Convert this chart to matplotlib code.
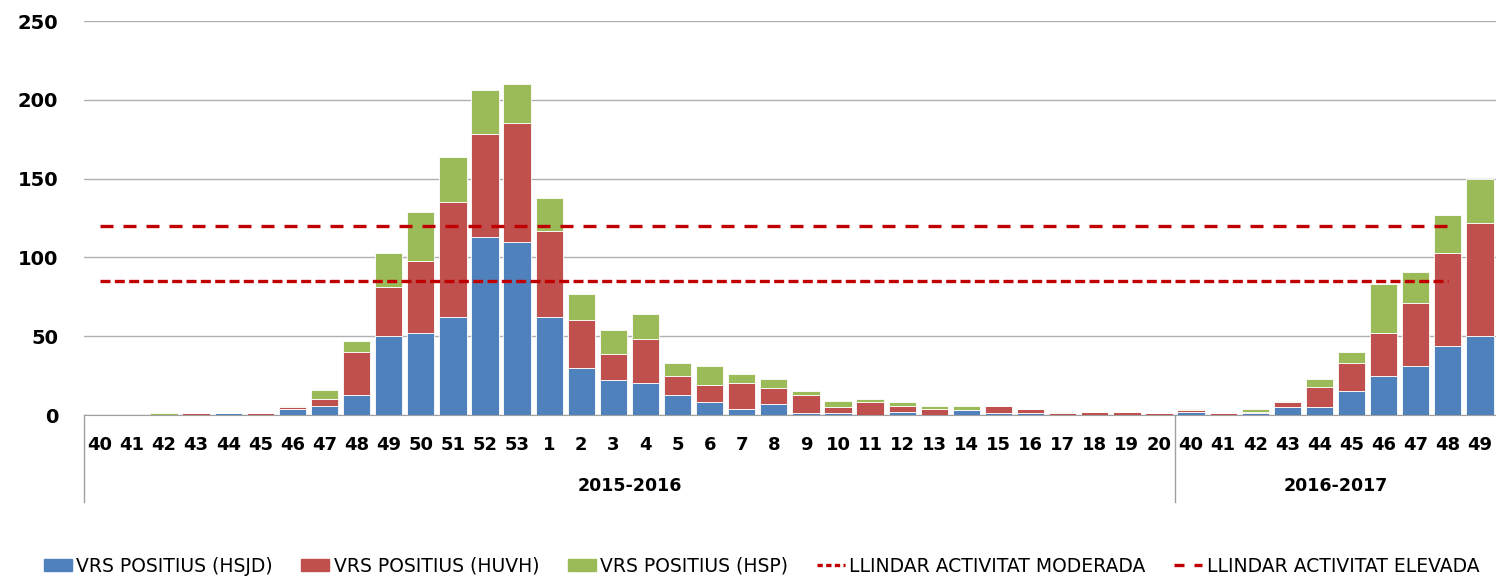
import numpy as np
import matplotlib.pyplot as plt
from matplotlib.transforms import blended_transform_factory
from matplotlib.patches import Patch
from matplotlib.lines import Line2D

# Setmanes epidemiològiques
weeks_1516 = [40, 41, 42, 43, 44, 45, 46, 47, 48, 49, 50, 51, 52, 53,
              1, 2, 3, 4, 5, 6, 7, 8, 9, 10, 11, 12, 13, 14, 15, 16, 17, 18, 19, 20]
weeks_1617 = [40, 41, 42, 43, 44, 45, 46, 47, 48, 49]
seasons = ["2015-2016", "2016-2017"]

hsjd = [0, 0, 0, 0, 1, 0, 4, 6, 13, 50, 52, 62, 113, 110,
        62, 30, 22, 20, 13, 8, 4, 7, 1, 1, 0, 2, 0, 3, 1, 1, 0, 0, 0, 0,
        2, 0, 1, 5, 5, 15, 25, 31, 44, 50]
huvh = [0, 0, 0, 1, 0, 1, 1, 4, 27, 31, 46, 73, 65, 75,
        55, 30, 17, 28, 12, 11, 16, 10, 12, 4, 8, 4, 4, 0, 5, 3, 1, 2, 2, 1,
        1, 1, 1, 3, 13, 18, 27, 40, 59, 72]
hsp = [0, 0, 1, 0, 0, 0, 1, 6, 7, 22, 31, 29, 28, 25,
       21, 17, 15, 16, 8, 12, 6, 6, 2, 4, 2, 2, 2, 3, 0, 0, 1, 0, 0, 0,
       1, 0, 2, 1, 5, 7, 31, 20, 24, 28]

llindar_moderada = 85
llindar_elevada = 120

labels = [str(w) for w in weeks_1516 + weeks_1617]
n = len(labels)
x = np.arange(n)

c_blue = "#4F81BD"
c_red = "#C0504D"
c_green = "#9BBB59"
c_line = "#C00000"
fam = ["DejaVu Sans"]

fig = plt.figure(figsize=(14.96, 5.76), dpi=100)
ax = fig.add_axes([0.056, 0.2795, 0.944, 0.684])

hsjd = np.array(hsjd)
huvh = np.array(huvh)
hsp = np.array(hsp)
w = 0.85
ax.bar(x, hsjd, w, color=c_blue, edgecolor="white", linewidth=0.6, zorder=3)
ax.bar(x, huvh, w, bottom=hsjd, color=c_red, edgecolor="white", linewidth=0.6, zorder=3)
ax.bar(x, hsp, w, bottom=hsjd + huvh, color=c_green, edgecolor="white", linewidth=0.6, zorder=3)

# llindars (fins a la penúltima setmana)
xl = x[:-1]
ax.plot(xl, np.full(len(xl), llindar_moderada), color=c_line, lw=2.4,
        dashes=(3, 1.3), zorder=4)
ax.plot(xl, np.full(len(xl), llindar_elevada), color=c_line, lw=2.4,
        dashes=(3.9, 3), zorder=4)

ax.set_xlim(-0.5, n - 0.5)
ax.set_ylim(0, 250)
ax.set_yticks([0, 50, 100, 150, 200, 250])
ax.yaxis.grid(True, color="#b0b0b0", lw=1, zorder=0)
ax.set_axisbelow(True)
for s in ["left", "right", "top"]:
    ax.spines[s].set_visible(False)
ax.spines["bottom"].set_color("#a0a0a0")
ax.tick_params(axis="y", length=0, pad=18.5, labelsize=14)
ax.tick_params(axis="x", length=0, pad=15, labelsize=13)
ax.set_xticks(x)
ax.set_xticklabels(labels)
for t in ax.get_xticklabels() + ax.get_yticklabels():
    t.set_fontweight("bold")
    t.set_family(fam)

# separadors de temporada
trans = blended_transform_factory(ax.transData, ax.transAxes)
n1 = len(weeks_1516)
for xs in [-0.5, n1 - 0.5]:
    ax.plot([xs, xs], [0, -0.22], transform=trans, color="#a0a0a0", lw=1, clip_on=False)
ax.text((n1 - 1) / 2, -0.18, seasons[0], transform=trans, ha="center", va="center",
        fontsize=12.5, fontweight="bold", family=fam)
ax.text(n1 + (len(weeks_1617) - 1) / 2, -0.18, seasons[1], transform=trans, ha="center",
        va="center", fontsize=12.5, fontweight="bold", family=fam)

handles = [
    Patch(color=c_blue, label="VRS POSITIUS (HSJD)"),
    Patch(color=c_red, label="VRS POSITIUS (HUVH)"),
    Patch(color=c_green, label="VRS POSITIUS (HSP)"),
    Line2D([], [], color=c_line, lw=2.4, dashes=(1.6, 1), label="LLINDAR ACTIVITAT MODERADA"),
    Line2D([], [], color=c_line, lw=2.4, dashes=(3, 3), label="LLINDAR ACTIVITAT ELEVADA"),
]
fig.legend(handles=handles, loc="center", bbox_to_anchor=(0.509, 0.017), ncol=5,
           frameon=False, handlelength=1.5, handleheight=0.6, handletextpad=0.25,
           columnspacing=1.5, prop={"family": fam, "size": 13.5})

fig.savefig("out.png", dpi=100)
